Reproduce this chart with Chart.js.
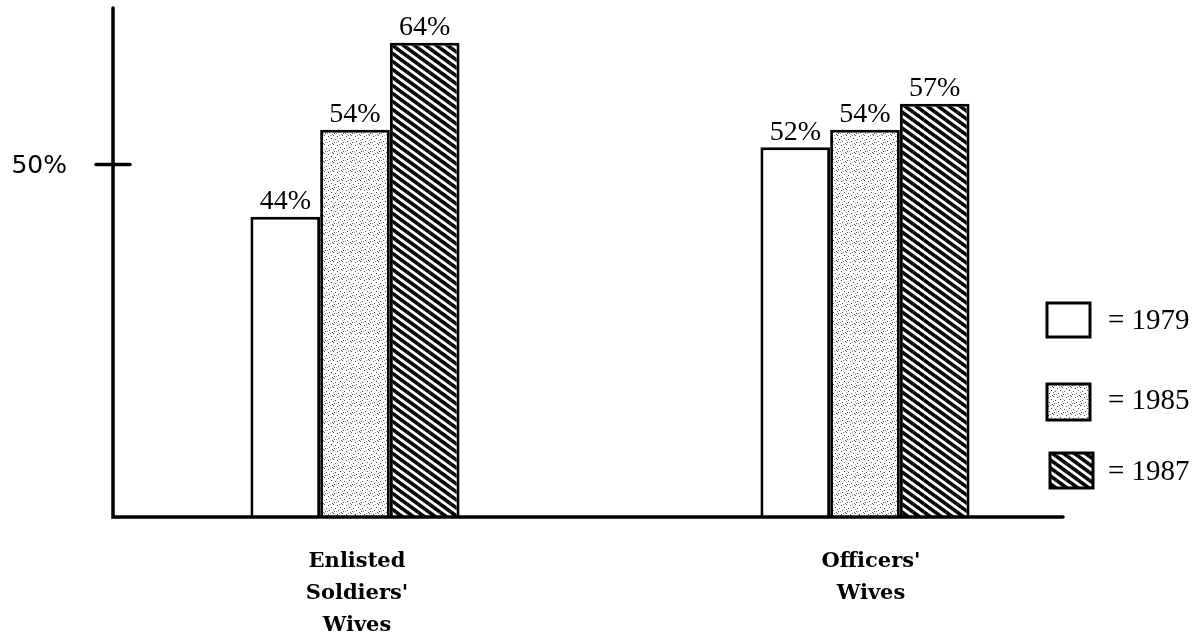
<!DOCTYPE html>
<html>
<head>
<meta charset="utf-8">
<script src="https://cdn.jsdelivr.net/npm/chart.js@4.4.1/dist/chart.umd.min.js"></script>
<style>
  html, body { margin: 0; padding: 0; background: #fff; }
  canvas { display: block; }
</style>
</head>
<body>
<canvas id="chart" width="1204" height="634"></canvas>
<script>
const categories = [["Enlisted", "Soldiers'", "Wives"], ["Officers'", "Wives"]];
const years = ["1979", "1985", "1987"];
const values1979 = [44, 52];
const values1985 = [54, 54];
const values1987 = [64, 57];
const yTicks = [50];

const makeTile = (w, h, draw) => {
  const tile = document.createElement("canvas");
  tile.width = w;
  tile.height = h;
  const g = tile.getContext("2d");
  g.fillStyle = "#fff";
  g.fillRect(0, 0, w, h);
  draw(g, w, h);
  return g.createPattern(tile, "repeat");
};

// scattered stipple for 1985
const dots = makeTile(9, 9, (g) => {
  g.fillStyle = "#555";
  [[0, 0], [4, 1], [7, 3], [2, 4], [5, 6], [1, 7], [8, 8]].forEach(([x, y]) =>
    g.fillRect(x, y, 1, 1)
  );
  g.fillStyle = "#999";
  [[6, 0], [3, 7], [0, 5]].forEach(([x, y]) => g.fillRect(x, y, 1, 1));
});

// diagonal hatch for 1987 (lines running down to the right)
const hatch = makeTile(11, 8, (g, w, h) => {
  g.strokeStyle = "#000";
  g.lineWidth = 3.6;
  for (let i = -1; i <= 1; i++) {
    for (let j = -1; j <= 1; j++) {
      g.beginPath();
      g.moveTo(i * w, j * h);
      g.lineTo(i * w + w, j * h + h);
      g.stroke();
    }
  }
});

const fills = ["#fff", dots, hatch];

const drawExtras = {
  id: "drawExtras",
  afterDatasetsDraw(chart) {
    const { ctx, chartArea, scales } = chart;
    const yBase = scales.y.getPixelForValue(scales.y.min);
    const axisX = chartArea.left + 13;
    ctx.save();

    // value labels above bars
    ctx.fillStyle = "#000";
    ctx.font = "28px 'Liberation Serif', serif";
    ctx.textAlign = "center";
    ctx.textBaseline = "bottom";
    chart.data.datasets.forEach((ds, i) => {
      chart.getDatasetMeta(i).data.forEach((bar, j) => {
        ctx.fillText(`${ds.data[j]}%`, bar.x, bar.y - 1);
      });
    });

    // axes
    ctx.strokeStyle = "#000";
    ctx.lineWidth = 3.5;
    ctx.lineCap = "round";
    ctx.beginPath();
    ctx.moveTo(axisX, chartArea.top);
    ctx.lineTo(axisX, yBase);
    ctx.lineTo(chartArea.right - 57, yBase);
    ctx.stroke();

    // y ticks
    ctx.font = "25px 'DejaVu Sans', sans-serif";
    ctx.textAlign = "right";
    ctx.textBaseline = "middle";
    yTicks.forEach((v) => {
      const y = scales.y.getPixelForValue(v);
      ctx.beginPath();
      ctx.moveTo(axisX - 17, y);
      ctx.lineTo(axisX + 17, y);
      ctx.stroke();
      ctx.fillText(`${v}%`, axisX - 46, y + 2);
    });

    // category labels
    ctx.font = "bold 21px 'DejaVu Serif', serif";
    ctx.textAlign = "center";
    categories.forEach((lines, i) => {
      const x = scales.x.getPixelForValue(i) + (i === 0 ? 2 : 6);
      lines.forEach((line, k) => {
        ctx.fillText(line, x, yBase + 45 + k * 32);
      });
    });

    // legend
    const legendBoxes = [
      { x: 1047, y: 303, w: 43, h: 34, ty: 321 },
      { x: 1047, y: 384, w: 43, h: 36, ty: 401 },
      { x: 1050, y: 453, w: 43, h: 35, ty: 472 },
    ];
    ctx.font = "29px 'Liberation Serif', serif";
    ctx.textAlign = "left";
    ctx.lineWidth = 3;
    ctx.lineCap = "butt";
    years.forEach((year, i) => {
      const b = legendBoxes[i];
      ctx.fillStyle = fills[i];
      ctx.fillRect(b.x, b.y, b.w, b.h);
      ctx.strokeRect(b.x, b.y, b.w, b.h);
      ctx.fillStyle = "#000";
      ctx.fillText(`= ${year}`, 1108, b.ty);
    });

    ctx.restore();
  },
};

const datasets = [values1979, values1985, values1987].map((data, i) => ({
  label: years[i],
  data,
  backgroundColor: fills[i],
  borderColor: "#000",
  borderWidth: 3,
  barPercentage: 1,
  categoryPercentage: 0.41,
}));

new Chart(document.getElementById("chart"), {
  type: "bar",
  data: { labels: categories.map((c) => c.join(" ")), datasets },
  options: {
    responsive: false,
    animation: false,
    layout: { padding: { left: 100, right: 84, top: 8, bottom: 117 } },
    plugins: { legend: { display: false }, tooltip: { enabled: false } },
    scales: {
      x: { display: false },
      y: { display: false, min: 9.5, max: 68 },
    },
  },
  plugins: [drawExtras],
});
</script>
</body>
</html>
